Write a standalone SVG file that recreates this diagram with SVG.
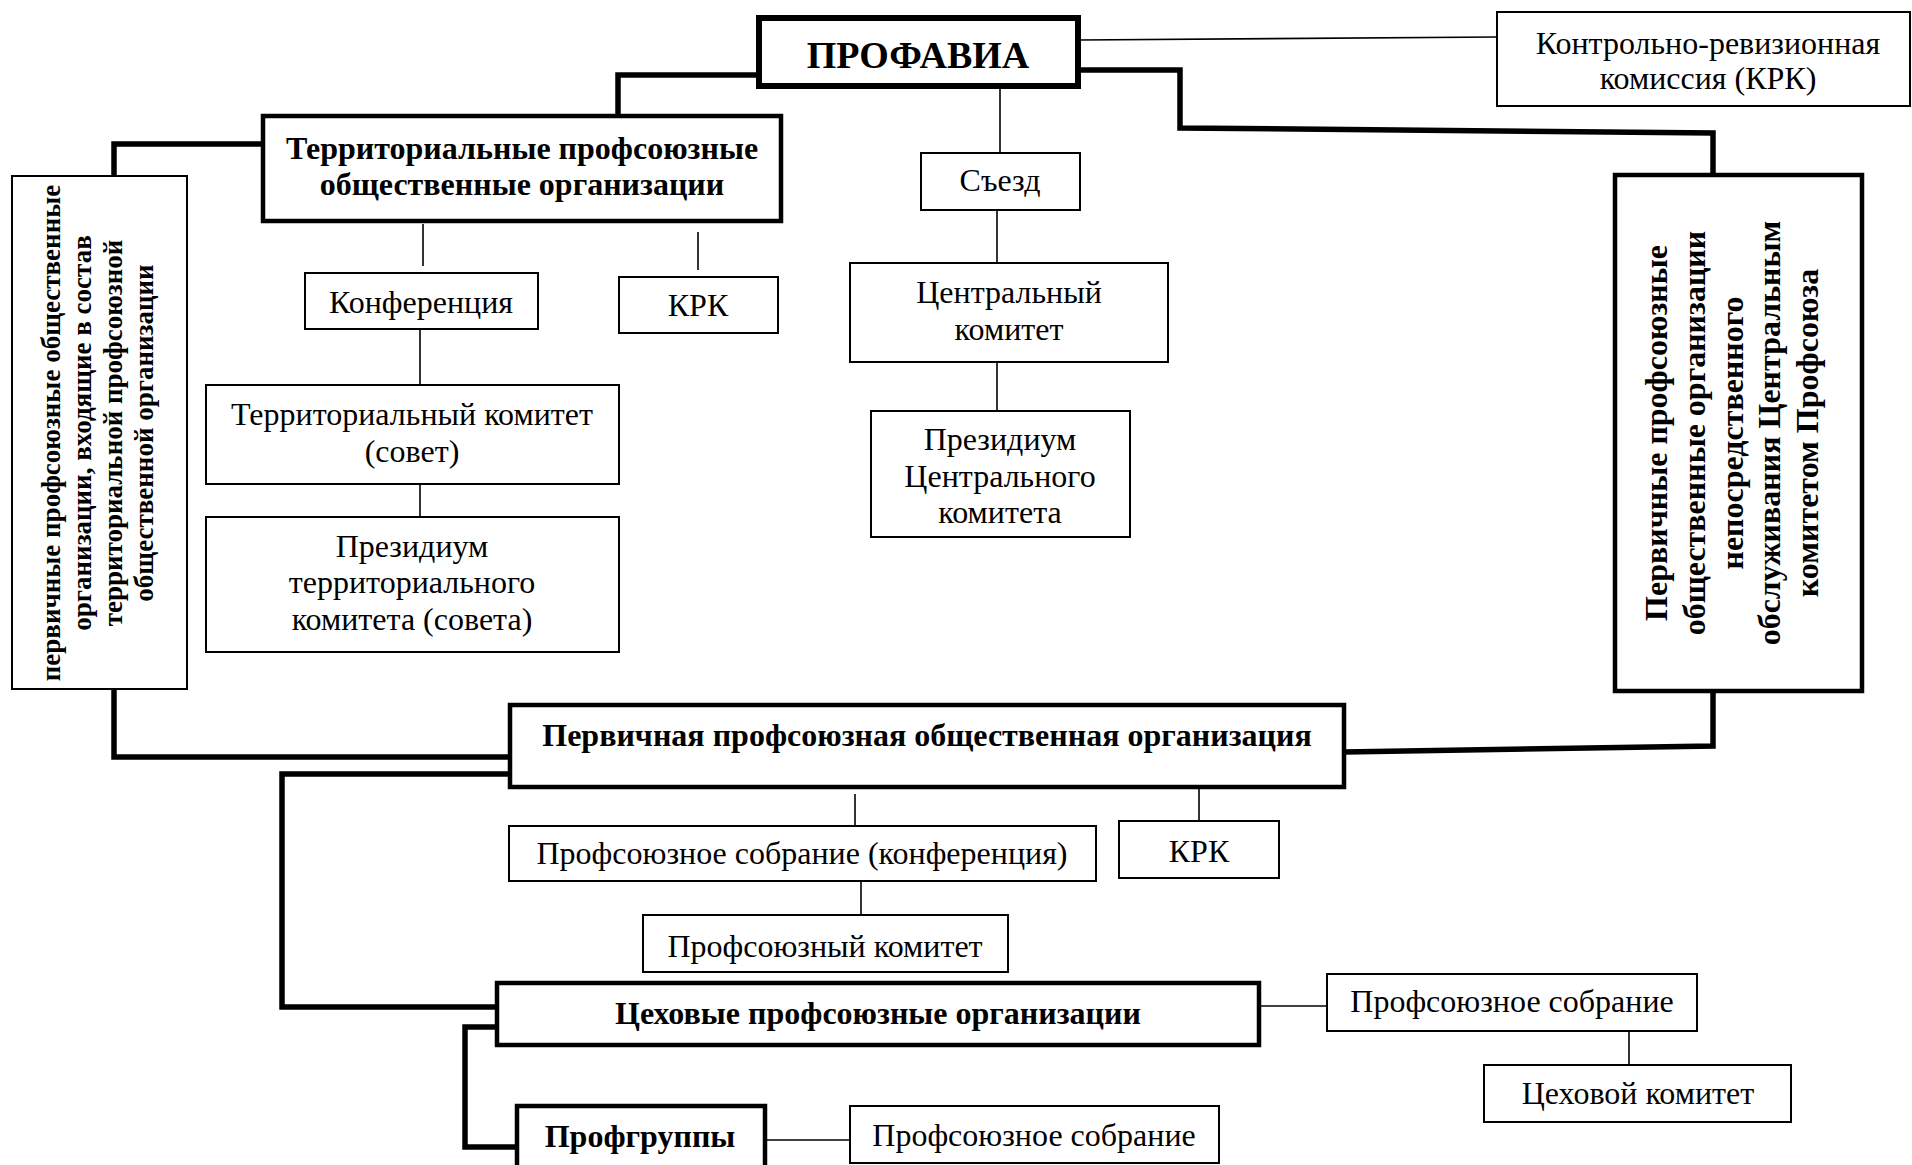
<svg xmlns="http://www.w3.org/2000/svg" width="1912" height="1165" viewBox="0 0 1912 1165">
<style>
.box{fill:#fff;stroke:#000;stroke-width:2}
.bold{fill:#fff;stroke:#000;stroke-width:4.5}
.t{font-family:"Liberation Serif","Times New Roman",serif;font-size:32px;fill:#000;text-anchor:middle}
.b{font-family:"Liberation Serif","Times New Roman",serif;font-size:32px;font-weight:bold;fill:#000;text-anchor:middle}
.thin{fill:none;stroke:#000;stroke-width:1.6}
.thick{fill:none;stroke:#000;stroke-width:5.5}
</style>
<rect width="1912" height="1165" fill="#fff"/>
<g id="connectors">
<line class="thin" x1="1080" y1="40" x2="1497" y2="37"/>
<polyline class="thick" points="1080,70 1180,70 1180,128 1713,133 1713,175"/>
<polyline class="thick" points="757,75 618,75 618,115"/>
<polyline class="thick" points="263,144 114,144 114,176"/>
<line class="thin" x1="423" y1="224" x2="423" y2="266"/>
<line class="thin" x1="698" y1="232" x2="698" y2="270"/>
<line class="thin" x1="420" y1="330" x2="420" y2="385"/>
<line class="thin" x1="420" y1="484" x2="420" y2="517"/>
<line class="thin" x1="1000" y1="87" x2="1000" y2="153"/>
<line class="thin" x1="997" y1="210" x2="997" y2="263"/>
<line class="thin" x1="997" y1="362" x2="997" y2="411"/>
<polyline class="thick" points="114,689 114,757 510,757"/>
<polyline class="thick" points="510,774 282,774 282,1007 497,1007"/>
<polyline class="thick" points="1713,691 1713,746 1344,752"/>
<line class="thin" x1="855" y1="794" x2="855" y2="825"/>
<line class="thin" x1="1199" y1="789" x2="1199" y2="821"/>
<line class="thin" x1="861" y1="881" x2="861" y2="914"/>
<polyline class="thick" points="497,1027 465,1027 465,1147 517,1147"/>
<line class="thin" x1="1259" y1="1006" x2="1327" y2="1006"/>
<line class="thin" x1="1629" y1="1031" x2="1629" y2="1065"/>
<line class="thin" x1="766" y1="1140" x2="850" y2="1140"/>
</g>
<g id="profavia">
<rect x="759" y="18" width="319" height="68" fill="#fff" stroke="#000" stroke-width="6"/>
<text class="b" x="918" y="68" style="font-size:38px">ПРОФАВИА</text>
</g>
<g id="krk-top">
<rect class="box" x="1497" y="12" width="413" height="94"/>
<text class="t" x="1708" y="54">Контрольно-ревизионная</text>
<text class="t" x="1708" y="89">комиссия (КРК)</text>
</g>
<g id="territorial">
<rect class="bold" x="263" y="116" width="518" height="105"/>
<text class="b" x="522" y="159">Территориальные профсоюзные</text>
<text class="b" x="522" y="195">общественные организации</text>
</g>
<g id="left-primary">
<rect class="box" x="12" y="176" width="175" height="513"/>
<g class="b" style="font-size:27px">
<text transform="translate(60,433) rotate(-90)">первичные профсоюзные общественные</text>
<text transform="translate(91,433) rotate(-90)">организации, входящие в состав</text>
<text transform="translate(122,433) rotate(-90)">территориальной профсоюзной</text>
<text transform="translate(153,433) rotate(-90)">общественной организации</text>
</g>
</g>
<g id="conference">
<rect class="box" x="305" y="273" width="233" height="56"/>
<text class="t" x="421" y="313">Конференция</text>
</g>
<g id="krk-terr">
<rect class="box" x="619" y="277" width="159" height="56"/>
<text class="t" x="698" y="316">КРК</text>
</g>
<g id="terr-committee">
<rect class="box" x="206" y="385" width="413" height="99"/>
<text class="t" x="412" y="425">Территориальный комитет</text>
<text class="t" x="412" y="462">(совет)</text>
</g>
<g id="terr-presidium">
<rect class="box" x="206" y="517" width="413" height="135"/>
<text class="t" x="412" y="557">Президиум</text>
<text class="t" x="412" y="593">территориального</text>
<text class="t" x="412" y="630">комитета (совета)</text>
</g>
<g id="congress">
<rect class="box" x="921" y="153" width="159" height="57"/>
<text class="t" x="1000" y="191">Съезд</text>
</g>
<g id="central-committee">
<rect class="box" x="850" y="263" width="318" height="99"/>
<text class="t" x="1009" y="303">Центральный</text>
<text class="t" x="1009" y="340">комитет</text>
</g>
<g id="cc-presidium">
<rect class="box" x="871" y="411" width="259" height="126"/>
<text class="t" x="1000" y="450">Президиум</text>
<text class="t" x="1000" y="487">Центрального</text>
<text class="t" x="1000" y="523">комитета</text>
</g>
<g id="right-primary">
<rect class="bold" x="1615" y="175" width="247" height="516"/>
<g class="b" style="font-size:32px">
<text transform="translate(1667,433) rotate(-90)">Первичные профсоюзные</text>
<text transform="translate(1705,433) rotate(-90)">общественные организации</text>
<text transform="translate(1743,433) rotate(-90)">непосредственного</text>
<text transform="translate(1780,433) rotate(-90)">обслуживания Центральным</text>
<text transform="translate(1818,433) rotate(-90)">комитетом Профсоюза</text>
</g>
</g>
<g id="primary-org">
<rect class="bold" x="510" y="705" width="834" height="82"/>
<text class="b" x="927" y="746">Первичная профсоюзная общественная организация</text>
</g>
<g id="assembly-conf">
<rect class="box" x="509" y="826" width="587" height="55"/>
<text class="t" x="802" y="864">Профсоюзное собрание (конференция)</text>
</g>
<g id="krk-primary">
<rect class="box" x="1119" y="821" width="160" height="57"/>
<text class="t" x="1199" y="862">КРК</text>
</g>
<g id="union-committee">
<rect class="box" x="643" y="915" width="365" height="57"/>
<text class="t" x="825" y="957">Профсоюзный комитет</text>
</g>
<g id="shop-orgs">
<rect class="bold" x="497" y="983" width="762" height="62"/>
<text class="b" x="878" y="1024">Цеховые профсоюзные организации</text>
</g>
<g id="shop-assembly">
<rect class="box" x="1327" y="974" width="370" height="57"/>
<text class="t" x="1512" y="1012">Профсоюзное собрание</text>
</g>
<g id="shop-committee">
<rect class="box" x="1484" y="1065" width="307" height="57"/>
<text class="t" x="1638" y="1104">Цеховой комитет</text>
</g>
<g id="profgroups">
<rect class="bold" x="517" y="1106" width="248" height="70"/>
<text class="b" x="640" y="1147">Профгруппы</text>
</g>
<g id="group-assembly">
<rect class="box" x="850" y="1106" width="369" height="57"/>
<text class="t" x="1034" y="1146">Профсоюзное собрание</text>
</g>
</svg>
